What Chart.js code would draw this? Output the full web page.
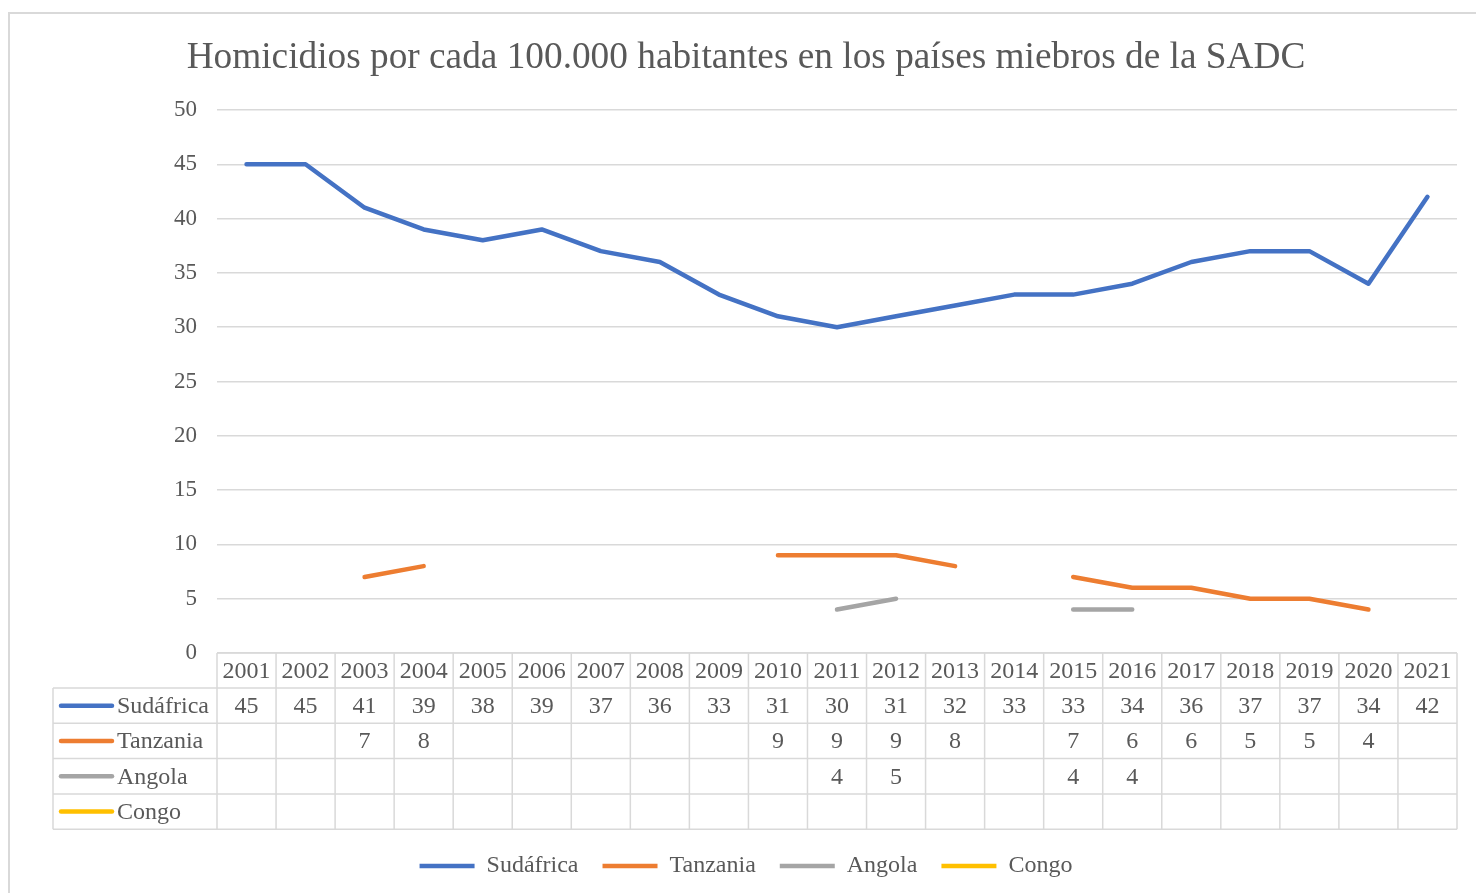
<!DOCTYPE html>
<html>
<head>
<meta charset="utf-8">
<script src="https://cdn.jsdelivr.net/npm/chart.js@4.4.1/dist/chart.umd.min.js"></script>
<style>
  body { margin: 0; background: #ffffff; overflow: hidden; }
  #wrap { width: 1476px; height: 893px; }
</style>
</head>
<body>
<div id="wrap"><canvas id="grafico" width="1476" height="893"></canvas></div>
<script>
// Datos del gráfico
const anios = ['2001', '2002', '2003', '2004', '2005', '2006', '2007', '2008', '2009', '2010', '2011',
               '2012', '2013', '2014', '2015', '2016', '2017', '2018', '2019', '2020', '2021'];
const sudafrica = [45, 45, 41, 39, 38, 39, 37, 36, 33, 31, 30, 31, 32, 33, 33, 34, 36, 37, 37, 34, 42];
const tanzania = [null, null, 7, 8, null, null, null, null, null, 9, 9, 9, 8, null, 7, 6, 6, 5, 5, 4, null];
const angola = [null, null, null, null, null, null, null, null, null, null, 4, 5, null, null, 4, 4, null, null, null, null, null];
const congo = [null, null, null, null, null, null, null, null, null, null, null, null, null, null, null, null, null, null, null, null, null];

const FUENTE = "'Liberation Serif', 'Times New Roman', serif";
const GRIS_TEXTO = '#595959';
const GRIS_LINEA = '#d9d9d9';
const ALTO_CABECERA = 35;
const ALTO_FILA = 35.3;

function serie(nombre, datos, color) {
    return {
        label: nombre,
        data: datos,
        borderColor: color,
        backgroundColor: color,
        borderWidth: 4.5,
        borderCapStyle: 'round',
        borderJoinStyle: 'round',
        pointRadius: 0,
        pointHoverRadius: 0,
        tension: 0,
        spanGaps: false
    };
}

// Plugin para el marco exterior y la tabla de datos bajo el eje X
const tablaDatos = {
    id: 'tablaDatos',
    beforeDraw(chart) {
        const ctx = chart.ctx;
        ctx.save();
        ctx.fillStyle = '#ffffff';
        ctx.fillRect(0, 0, chart.width, chart.height);
        ctx.strokeStyle = GRIS_LINEA;
        ctx.lineWidth = 2;
        ctx.strokeRect(9, 13, 1500, 1000);
        ctx.restore();
    },
    afterDraw(chart) {
        const ctx = chart.ctx;
        const x = chart.scales.x;
        const area = chart.chartArea;
        const n = anios.length;
        const ancho = (area.right - area.left) / n;
        const top = area.bottom;
        const filas = chart.data.datasets.length;
        const bottom = top + ALTO_CABECERA + filas * ALTO_FILA;
        const izq = 53;

        ctx.save();
        ctx.strokeStyle = GRIS_LINEA;
        ctx.lineWidth = 1.5;

        // lineas horizontales
        ctx.beginPath();
        ctx.moveTo(area.left, top);
        ctx.lineTo(area.right, top);
        for (let r = 0; r <= filas; r++) {
            const y = top + ALTO_CABECERA + r * ALTO_FILA;
            ctx.moveTo(izq, y);
            ctx.lineTo(area.right, y);
        }
        // lineas verticales entre categorias
        for (let i = 0; i <= n; i++) {
            const px = i === n ? x.getPixelForValue(n - 1) + ancho / 2 : x.getPixelForValue(i) - ancho / 2;
            ctx.moveTo(px, top);
            ctx.lineTo(px, bottom);
        }
        ctx.moveTo(izq, top + ALTO_CABECERA);
        ctx.lineTo(izq, bottom);
        ctx.stroke();

        ctx.fillStyle = GRIS_TEXTO;
        ctx.font = '24px ' + FUENTE;
        ctx.textAlign = 'center';
        ctx.textBaseline = 'middle';

        // cabecera con los años
        anios.forEach((a, i) => {
            ctx.fillText(a, x.getPixelForValue(i), top + ALTO_CABECERA / 2 + 1);
        });

        // filas de cada serie
        chart.data.datasets.forEach((ds, r) => {
            const yc = top + ALTO_CABECERA + r * ALTO_FILA + ALTO_FILA / 2 + 1;
            ctx.strokeStyle = ds.borderColor;
            ctx.lineWidth = 4.5;
            ctx.lineCap = 'round';
            ctx.beginPath();
            ctx.moveTo(61, yc - 1);
            ctx.lineTo(112, yc - 1);
            ctx.stroke();
            ctx.textAlign = 'left';
            ctx.fillText(ds.label, 117, yc);
            ctx.textAlign = 'center';
            ds.data.forEach((v, i) => {
                if (v !== null) ctx.fillText(String(v), x.getPixelForValue(i), yc);
            });
        });
        ctx.restore();
    }
};

const ctx = document.getElementById('grafico');

new Chart(ctx, {
    type: 'line',
    data: {
        labels: anios,
        datasets: [
            serie('Sudáfrica', sudafrica, '#4472C4'),
            serie('Tanzania', tanzania, '#ED7D31'),
            serie('Angola', angola, '#A5A5A5'),
            serie('Congo', congo, '#FFC000')
        ]
    },
    options: {
        responsive: false,
        animation: false,
        events: [],
        layout: {
            padding: { left: 35, right: 19, top: 12, bottom: 5 }
        },
        plugins: {
            title: {
                display: true,
                text: 'Homicidios por cada 100.000 habitantes en los países miebros de la SADC',
                color: GRIS_TEXTO,
                font: { family: FUENTE, size: 37.3, weight: 'normal' },
                padding: { top: 23.5, bottom: 29.7 }
            },
            legend: {
                position: 'bottom',
                labels: {
                    usePointStyle: true,
                    pointStyle: 'line',
                    pointStyleWidth: 55,
                    color: GRIS_TEXTO,
                    font: { family: FUENTE, size: 24 },
                    padding: 24
                }
            },
            tooltip: { enabled: false }
        },
        scales: {
            x: {
                offset: true,
                grid: { display: false },
                border: { display: false },
                ticks: { display: false },
                afterFit(scale) { scale.height = 177; }
            },
            y: {
                min: 0,
                max: 50,
                ticks: {
                    stepSize: 5,
                    padding: 20,
                    color: GRIS_TEXTO,
                    font: { family: FUENTE, size: 23 }
                },
                grid: { color: GRIS_LINEA, lineWidth: 1.5, drawTicks: false },
                border: { display: false },
                afterFit(scale) { scale.width = 182; }
            }
        }
    },
    plugins: [tablaDatos]
});
</script>
</body>
</html>
